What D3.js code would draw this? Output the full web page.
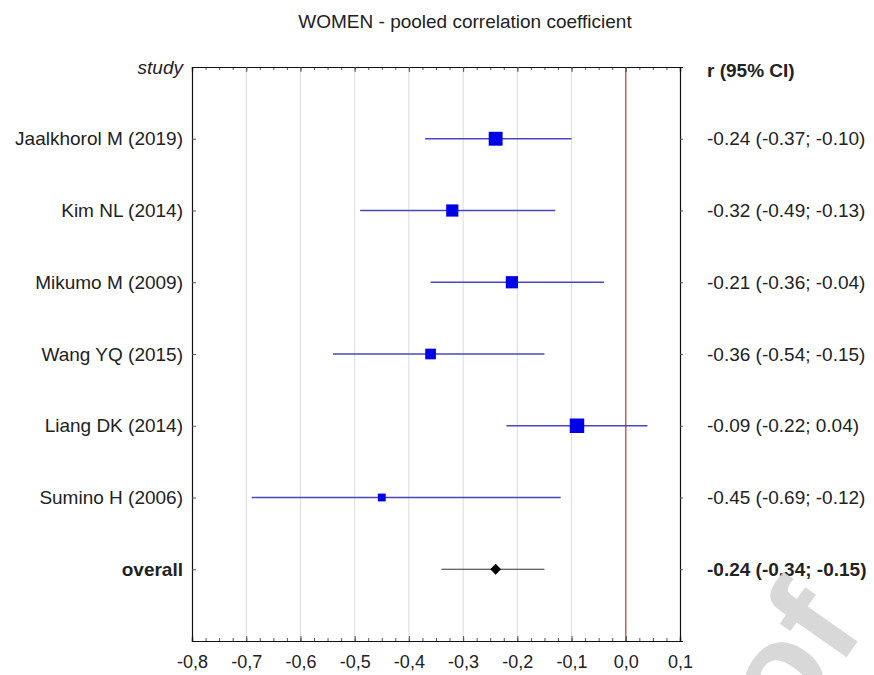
<!DOCTYPE html>
<html>
<head>
<meta charset="utf-8">
<script src="https://cdn.jsdelivr.net/npm/d3@7/dist/d3.min.js"></script>
<style>
  body { margin: 0; background: #fff; }
  text { font-family: "Liberation Sans", Arial, sans-serif; fill: #222; }
</style>
</head>
<body>
<script>
// forest plot - women, pooled correlation coefficient

var studies = ['Jaalkhorol M (2019)', 'Kim NL (2014)', 'Mikumo M (2009)', 'Wang YQ (2015)', 'Liang DK (2014)', 'Sumino H (2006)'],
    r      = [-0.24, -0.32, -0.21, -0.36, -0.09, -0.45],
    lo     = [-0.37, -0.49, -0.36, -0.54, -0.22, -0.69],
    hi     = [-0.10, -0.13, -0.04, -0.15, 0.04, -0.12],
    weight = [22, 17, 17, 13, 24, 7];

var overall = { r: -0.24, lo: -0.34, hi: -0.15 };

var xTicks = [-0.8, -0.7, -0.6, -0.5, -0.4, -0.3, -0.2, -0.1, 0.0, 0.1];

var width = 874, height = 675;
var mLeft = 192, mRight = 680, mTop = 67, mBottom = 641;
var fs = '19px';

var svg = d3.select('body').append('svg')
  .attr('width', width)
  .attr('height', height);

var x = d3.scaleLinear().domain([-0.8, 0.1]).range([mLeft, mRight]);
var y = d3.scaleLinear().domain([-1, 7]).range([mTop, mBottom]);
var size = d3.scaleSqrt().domain([0, 24]).range([0, 14.5]);

function fmt(v){ return v.toFixed(2); }
function ci(a, b, c){ return fmt(a) + ' (' + fmt(b) + '; ' + fmt(c) + ')'; }

// grid
svg.append('g').selectAll('line').data(xTicks.slice(1, 8)).enter().append('line')
  .attr('x1', function(d){ return x(d); }).attr('x2', function(d){ return x(d); })
  .attr('y1', mTop).attr('y2', mBottom)
  .attr('stroke', '#dcdcdc').attr('stroke-width', 1);

// zero line
svg.append('line')
  .attr('x1', x(0)).attr('x2', x(0)).attr('y1', mTop).attr('y2', mBottom)
  .attr('stroke', '#b8483c').attr('stroke-width', 1.3);

// axes
var minor = d3.range(-0.8, 0.1001, 0.025);
svg.append('g').attr('transform', 'translate(0,' + mTop + ')')
  .call(d3.axisTop(x).tickValues(minor).tickSize(-3).tickFormat(''));
svg.append('g').attr('transform', 'translate(0,' + mBottom + ')')
  .call(d3.axisBottom(x).tickValues(minor).tickSize(-3).tickFormat(''));
svg.append('g').attr('transform', 'translate(0,' + mTop + ')')
  .call(d3.axisTop(x).tickValues(xTicks).tickSize(-5).tickFormat(''));
var gBotMaj = svg.append('g').attr('transform', 'translate(0,' + mBottom + ')')
  .call(d3.axisBottom(x).tickValues(xTicks).tickSize(-5).tickPadding(14)
    .tickFormat(function(d){ return d3.format('.1f')(d).replace('.', ',').replace('−', '-'); }));
gBotMaj.selectAll('text').style('font-size', '18px').attr('fill', '#222');

var rows = d3.range(studies.length + 1);
svg.append('g').attr('transform', 'translate(' + mLeft + ',0)')
  .call(d3.axisLeft(y).tickValues(rows).tickSize(-4).tickFormat(''));
svg.append('g').attr('transform', 'translate(' + mRight + ',0)')
  .call(d3.axisRight(y).tickValues(rows).tickSize(3).tickFormat(''));

svg.selectAll('.domain').attr('stroke', '#111').attr('stroke-width', 1.2);
svg.selectAll('.tick line').attr('stroke', '#555');

// CI lines
svg.append('g').selectAll('line').data(studies).enter().append('line')
  .attr('x1', function(d, i){ return x(lo[i]); })
  .attr('x2', function(d, i){ return x(hi[i]); })
  .attr('y1', function(d, i){ return y(i); })
  .attr('y2', function(d, i){ return y(i); })
  .attr('stroke', '#4848bb').attr('stroke-width', 1.6);

// squares
svg.append('g').selectAll('rect').data(studies).enter().append('rect')
  .attr('x', function(d, i){ return x(r[i]) - size(weight[i]) / 2; })
  .attr('y', function(d, i){ return y(i) - size(weight[i]) / 2; })
  .attr('width', function(d, i){ return size(weight[i]); })
  .attr('height', function(d, i){ return size(weight[i]); })
  .attr('fill', '#0000e6');

// overall
var oy = y(studies.length);
svg.append('line')
  .attr('x1', x(overall.lo)).attr('x2', x(overall.hi))
  .attr('y1', oy).attr('y2', oy)
  .attr('stroke', '#333').attr('stroke-width', 1.2);
svg.append('path')
  .attr('d', d3.symbol().type(d3.symbolDiamond2).size(75)())
  .attr('transform', 'translate(' + x(overall.r) + ',' + oy + ')')
  .attr('fill', '#000');

// study labels
svg.append('g').selectAll('text').data(studies).enter().append('text')
  .attr('x', mLeft - 9)
  .attr('y', function(d, i){ return y(i); })
  .attr('dy', '0.35em')
  .attr('text-anchor', 'end')
  .style('font-size', fs)
  .text(function(d){ return d; });
svg.append('text').attr('x', mLeft - 9).attr('y', oy).attr('dy', '0.35em')
  .attr('text-anchor', 'end').style('font-size', fs).style('font-weight', 'bold')
  .text('overall');

// r (95% CI) labels
svg.append('g').selectAll('text').data(studies).enter().append('text')
  .attr('x', mRight + 27)
  .attr('y', function(d, i){ return y(i); })
  .attr('dy', '0.35em')
  .style('font-size', fs)
  .text(function(d, i){ return ci(r[i], lo[i], hi[i]); });
svg.append('text').attr('x', mRight + 27).attr('y', oy).attr('dy', '0.35em')
  .style('font-size', fs).style('font-weight', 'bold')
  .text(ci(overall.r, overall.lo, overall.hi));

// headers
svg.append('text').attr('x', mLeft - 9).attr('y', mTop).attr('dy', '0.35em')
  .attr('text-anchor', 'end').style('font-size', fs).style('font-style', 'italic')
  .text('study');
svg.append('text').attr('x', mRight + 27).attr('y', mTop + 3).attr('dy', '0.35em')
  .style('font-size', fs).style('font-weight', 'bold')
  .text('r (95% CI)');

// title
svg.append('text').attr('x', 465).attr('y', 21).attr('dy', '0.35em')
  .attr('text-anchor', 'middle').style('font-size', fs)
  .text('WOMEN - pooled correlation coefficient');

// watermark
svg.append('text')
  .attr('transform', 'translate(790,738) rotate(-55)')
  .style('font-size', '140px').style('font-weight', 'bold')
  .style('fill', '#d4d4d4').style('opacity', 0.9)
  .text('of');
</script>
</body>
</html>
